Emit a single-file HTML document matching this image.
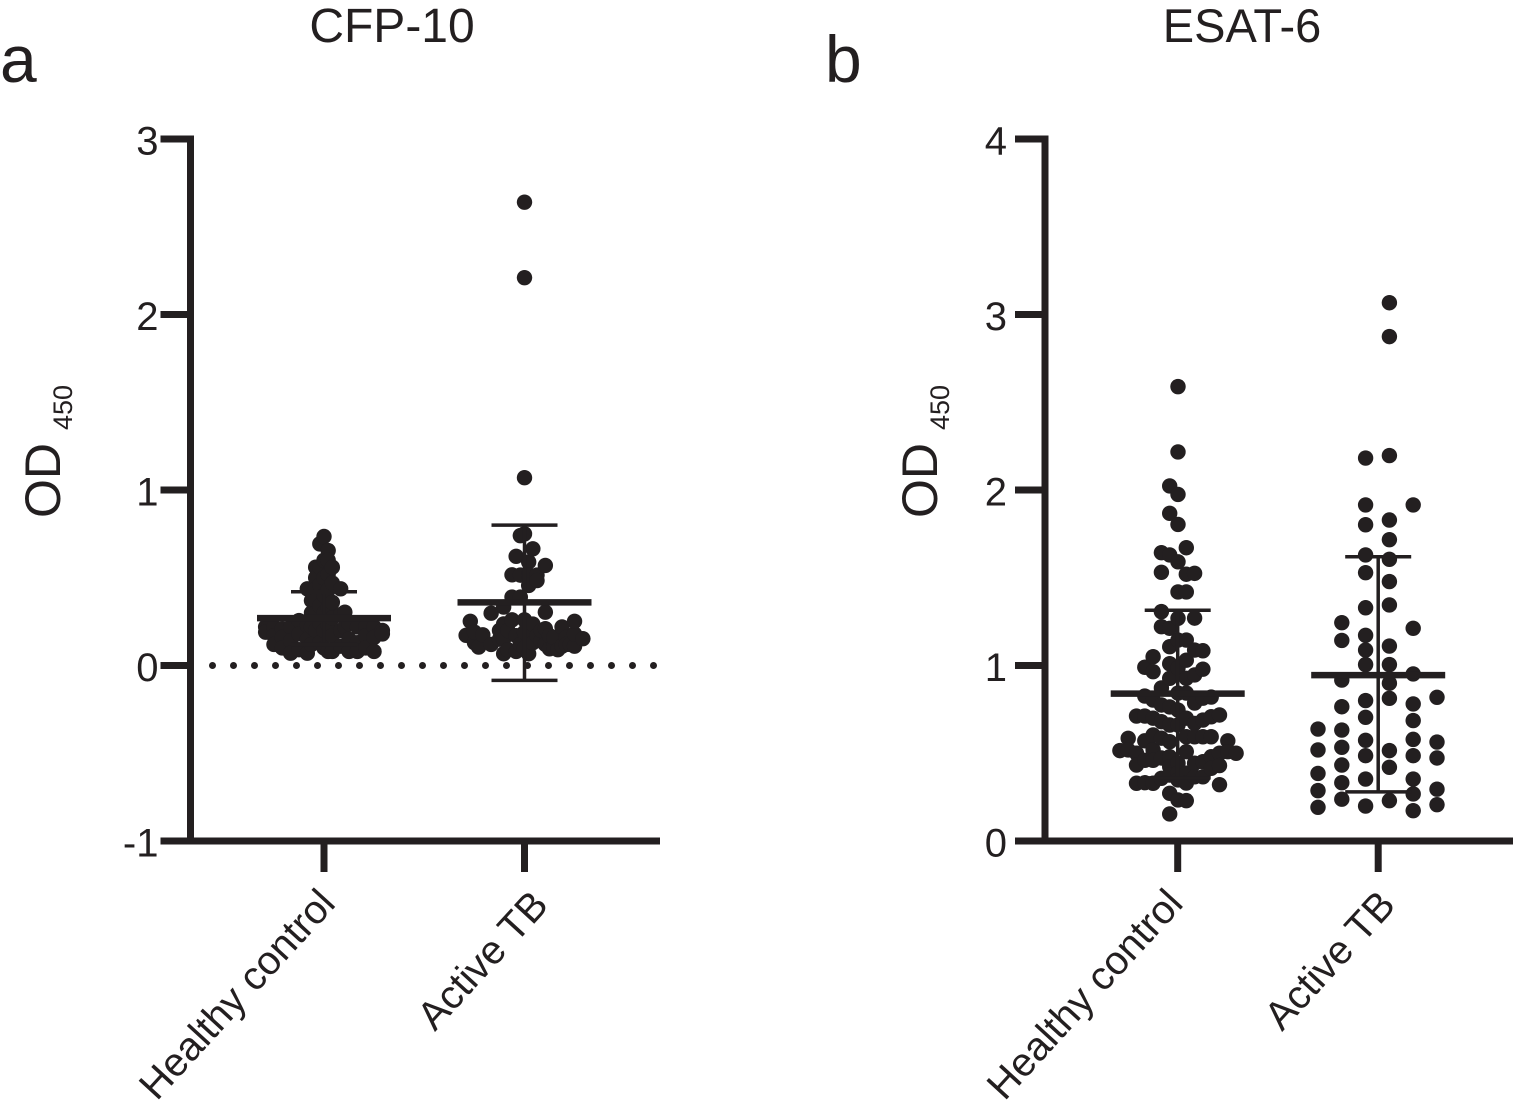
<!DOCTYPE html>
<html lang="en">
<head>
<meta charset="utf-8">
<title>CFP-10 and ESAT-6 OD450</title>
<style>
html,body{margin:0;padding:0;background:#fff;}
svg{display:block;}
text{font-family:"Liberation Sans",sans-serif;fill:#231f20;}
</style>
</head>
<body>
<svg id="chart" width="1515" height="1112" viewBox="0 0 1515 1112" xmlns="http://www.w3.org/2000/svg">
<rect width="1515" height="1112" fill="#fff"/>
<text x="0" y="82" font-size="66">a</text>
<text x="825" y="82" font-size="66">b</text>
<text x="392" y="42" font-size="48" text-anchor="middle">CFP-10</text>
<text x="1242" y="42" font-size="47" text-anchor="middle">ESAT-6</text>
<g transform="translate(60,518) rotate(-90)"><text font-size="50">OD</text><text x="88" y="12" font-size="27">450</text></g>
<g transform="translate(937,518) rotate(-90)"><text font-size="50">OD</text><text x="88" y="12" font-size="27">450</text></g>
<g id="panelA"></g>
<g id="panelB"></g>
</svg>
<script>
const categories = ["Healthy control", "Active TB"];
const cfpTicks = [-1, 0, 1, 2, 3];
const esatTicks = [0, 1, 2, 3, 4];

const cfpMeans = [0.27, 0.36];
const cfpUpper = [0.42, 0.80];
const cfpLower = [0.12, -0.085];
const esatMeans = [0.84, 0.945];
const esatUpper = [1.315, 1.62];
const esatLower = [0.36, 0.28];

/* CFP-10, healthy control: values grouped by swarm lane */
const cfpHealthyM14 = [0.22, 0.19];
const cfpHealthyM12 = [0.22, 0.17, 0.12];
const cfpHealthyM10 = [0.21, 0.16, 0.10];
const cfpHealthyM8 = [0.22, 0.14, 0.07];
const cfpHealthyM6 = [0.256, 0.18, 0.09];
const cfpHealthyM4 = [0.437, 0.23, 0.15, 0.07];
const cfpHealthyM3 = [0.37, 0.30, 0.22, 0.12];
const cfpHealthyM2 = [0.56, 0.50, 0.437, 0.37, 0.30, 0.20];
const cfpHealthyM1 = [0.693, 0.56, 0.46, 0.34, 0.24, 0.13];
const cfpHealthy0 = [0.735, 0.60, 0.50, 0.40, 0.30, 0.20, 0.10];
const cfpHealthyP1 = [0.655, 0.60, 0.52, 0.43, 0.33, 0.23, 0.08];
const cfpHealthyP2 = [0.56, 0.47, 0.36, 0.27, 0.17, 0.08];
const cfpHealthyP4 = [0.437, 0.29, 0.20, 0.11];
const cfpHealthyP5 = [0.304, 0.22];
const cfpHealthyP6 = [0.24, 0.15, 0.08];
const cfpHealthyP8 = [0.22, 0.13, 0.08];
const cfpHealthyP10 = [0.22, 0.17, 0.10];
const cfpHealthyP12 = [0.22, 0.16, 0.08];
const cfpHealthyP14 = [0.20, 0.18];

/* CFP-10, active TB */
const cfpTbM14 = [0.172];
const cfpTbM13 = [0.252];
const cfpTbM12 = [0.13, 0.19];
const cfpTbM11 = [0.105];
const cfpTbM10 = [0.175];
const cfpTbM8 = [0.298, 0.12];
const cfpTbM6 = [0.15, 0.20];
const cfpTbM5 = [0.333, 0.237, 0.067, 0.15];
const cfpTbM4 = [0.09, 0.20];
const cfpTbM3 = [0.517, 0.39, 0.26];
const cfpTbM2 = [0.622, 0.08, 0.17];
const cfpTbM1 = [0.74, 0.515, 0.39, 0.12];
const cfpTb0 = [2.64, 2.21, 1.07, 0.75, 0.26, 0.19, 0.10];
const cfpTbP1 = [0.59, 0.515, 0.456, 0.067];
const cfpTbP2 = [0.665, 0.236, 0.13];
const cfpTbP3 = [0.515, 0.484, 0.17];
const cfpTbP4 = [0.14, 0.20];
const cfpTbP5 = [0.57, 0.304, 0.21, 0.12];
const cfpTbP6 = [0.095, 0.17];
const cfpTbP7 = [0.11, 0.16];
const cfpTbP8 = [0.09];
const cfpTbP9 = [0.11, 0.22];
const cfpTbP10 = [0.16, 0.12];
const cfpTbP11 = [0.12];
const cfpTbP12 = [0.11, 0.18, 0.252];
const cfpTbP14 = [0.153];

/* ESAT-6, healthy control */
const esatHealthyM7 = [0.515];
const esatHealthyM6 = [0.585, 0.519];
const esatHealthyM5 = [0.712, 0.50, 0.433, 0.329];
const esatHealthyM4 = [0.99, 0.826, 0.712, 0.571, 0.46, 0.332];
const esatHealthyM3 = [1.05, 0.965, 0.803, 0.70, 0.604, 0.519, 0.46, 0.329];
const esatHealthyM2 = [1.643, 1.531, 1.307, 1.221, 0.872, 0.775, 0.68, 0.586, 0.473, 0.357];
const esatHealthyM1 = [2.023, 1.867, 1.63, 1.212, 1.107, 1.01, 0.927, 0.764, 0.661, 0.566, 0.48, 0.423, 0.376, 0.272, 0.154];
const esatHealthy0 = [2.589, 2.217, 1.975, 1.804, 1.591, 1.419, 1.269, 1.145, 0.986, 0.843, 0.746, 0.661, 0.443, 0.386, 0.348, 0.234];
const esatHealthyP1 = [1.671, 1.52, 1.419, 1.145, 1.03, 0.927, 0.843, 0.70, 0.594, 0.509, 0.386, 0.33, 0.23];
const esatHealthyP2 = [1.525, 1.27, 1.088, 0.946, 0.786, 0.67, 0.594, 0.443, 0.366];
const esatHealthyP3 = [1.084, 0.979, 0.814, 0.689, 0.594, 0.452, 0.366];
const esatHealthyP4 = [0.82, 0.708, 0.594, 0.48, 0.414];
const esatHealthyP5 = [0.718, 0.50, 0.43, 0.321];
const esatHealthyP6 = [0.571, 0.509];
const esatHealthyP7 = [0.50];

/* ESAT-6, active TB */
const esatTbM5 = [0.638, 0.519, 0.385, 0.287, 0.192];
const esatTbM3 = [1.244, 1.143, 0.917, 0.765, 0.632, 0.534, 0.433, 0.332, 0.238];
const esatTbM1 = [2.182, 1.915, 1.802, 1.63, 1.529, 1.329, 1.172, 1.088, 1.005, 0.80, 0.705, 0.574, 0.486, 0.353, 0.199];
const esatTbP1 = [3.067, 2.874, 2.196, 1.829, 1.717, 1.605, 1.478, 1.345, 1.111, 1.005, 0.899, 0.813, 0.515, 0.42, 0.23];
const esatTbP3 = [1.915, 1.212, 0.952, 0.781, 0.686, 0.579, 0.486, 0.353, 0.268, 0.173];
const esatTbP5 = [0.819, 0.564, 0.473, 0.295, 0.207];

const SVGNS = "http://www.w3.org/2000/svg";
const INK = "#231f20";

function lineEl(parent, x1, y1, x2, y2, w, name) {
  const l = document.createElementNS(SVGNS, "line");
  l.setAttribute("x1", x1);
  l.setAttribute("y1", y1);
  l.setAttribute("x2", x2);
  l.setAttribute("y2", y2);
  l.setAttribute("stroke", INK);
  l.setAttribute("stroke-width", w);
  
  
  parent.appendChild(l);
  return l;
}

function drawPanel(cfg) {
  const g = document.getElementById(cfg.id);
  const lo = cfg.ticks[0];
  const hi = cfg.ticks[cfg.ticks.length - 1];
  const yScale = v => 841 - (v - lo) / (hi - lo) * 702;
  const xScale = i => cfg.firstX + i * 200.5;

  lineEl(g, cfg.axisX, 135.5, cfg.axisX, 844.5, 7, "y-axis-line");
  lineEl(g, cfg.axisX - 3, 841, cfg.axisEnd, 841, 7, "x-axis-line");

  cfg.ticks.forEach(t => {
    const y = yScale(t);
    lineEl(g, cfg.axisX - 30, y, cfg.axisX, y, 7, "y-tick-" + t);
    const lab = document.createElementNS(SVGNS, "text");
    lab.setAttribute("x", cfg.tickLabelX);
    lab.setAttribute("y", y + 15.5);
    lab.setAttribute("font-size", "40");
    lab.setAttribute("text-anchor", "end");
    
    
    lab.textContent = t;
    g.appendChild(lab);
  });

  categories.forEach((c, i) => {
    const x = xScale(i);
    lineEl(g, x, 841, x, 872, 7, "x-tick-" + i);
    const lab = document.createElementNS(SVGNS, "text");
    lab.setAttribute("transform", "translate(" + (x + (i === 0 ? cfg.labelNudgeA : cfg.labelNudgeB)) + "," + (i === 0 ? 905 : 906.5) + ") rotate(-47.5)");
    lab.setAttribute("font-size", "40");
    lab.setAttribute("text-anchor", "end");
    
    
    lab.textContent = c;
    g.appendChild(lab);
  });

  if (lo < 0) {
    const z = lineEl(g, cfg.axisX + 22, yScale(0), cfg.axisEnd, yScale(0), 7, "zero-reference-line");
    z.setAttribute("stroke-dasharray", "0 21");
    z.setAttribute("stroke-linecap", "round");
  }

  cfg.series.forEach((s, i) => {
    const cx = xScale(i) + s.shift;
    s.lanes.forEach(pair => {
      const laneIndex = pair[0];
      pair[1].forEach(v => {
        const d = document.createElementNS(SVGNS, "circle");
        d.setAttribute("cx", cx + laneIndex * s.pitch);
        d.setAttribute("cy", yScale(v));
        d.setAttribute("r", 7.7);
        d.setAttribute("fill", INK);
        
        
        g.appendChild(d);
      });
    });
    const x = xScale(i);
    lineEl(g, x, yScale(cfg.upper[i]), x, yScale(cfg.lower[i]), 3.5, "error-bar-stem");
    lineEl(g, x - 33, yScale(cfg.upper[i]), x + 33, yScale(cfg.upper[i]), 3.5, "error-bar-upper-cap");
    lineEl(g, x - 33, yScale(cfg.lower[i]), x + 33, yScale(cfg.lower[i]), 3.5, "error-bar-lower-cap");
    lineEl(g, x - 67, yScale(cfg.means[i]), x + 67, yScale(cfg.means[i]), 6.5, "mean-line");
  });
}

drawPanel({
  id: "panelA",
  axisX: 190.5,
  axisEnd: 660,
  firstX: 324,
  tickLabelX: 158.5,
  labelNudgeA: 13,
  labelNudgeB: 25.5,
  ticks: cfpTicks,
  means: cfpMeans,
  upper: cfpUpper,
  lower: cfpLower,
  series: [
    { shift: 0, pitch: 4.17, lanes: [
      [-14, cfpHealthyM14], [-12, cfpHealthyM12], [-10, cfpHealthyM10], [-8, cfpHealthyM8],
      [-6, cfpHealthyM6], [-4, cfpHealthyM4], [-3, cfpHealthyM3], [-2, cfpHealthyM2],
      [-1, cfpHealthyM1], [0, cfpHealthy0], [1, cfpHealthyP1], [2, cfpHealthyP2],
      [4, cfpHealthyP4], [5, cfpHealthyP5], [6, cfpHealthyP6], [8, cfpHealthyP8],
      [10, cfpHealthyP10], [12, cfpHealthyP12], [14, cfpHealthyP14]
    ] },
    { shift: 0, pitch: 4.17, lanes: [
      [-14, cfpTbM14], [-13, cfpTbM13], [-12, cfpTbM12], [-11, cfpTbM11], [-10, cfpTbM10], [-8, cfpTbM8],
      [-6, cfpTbM6], [-5, cfpTbM5], [-4, cfpTbM4], [-3, cfpTbM3], [-2, cfpTbM2], [-1, cfpTbM1], [0, cfpTb0],
      [1, cfpTbP1], [2, cfpTbP2], [3, cfpTbP3], [4, cfpTbP4], [5, cfpTbP5], [6, cfpTbP6],
      [7, cfpTbP7], [8, cfpTbP8], [9, cfpTbP9], [10, cfpTbP10], [11, cfpTbP11], [12, cfpTbP12], [14, cfpTbP14]
    ] }
  ]
});

drawPanel({
  id: "panelB",
  axisX: 1045,
  axisEnd: 1513,
  firstX: 1177.7,
  tickLabelX: 1007,
  labelNudgeA: 7,
  labelNudgeB: 19,
  ticks: esatTicks,
  means: esatMeans,
  upper: esatUpper,
  lower: esatLower,
  series: [
    { shift: 0.3, pitch: 8.3, lanes: [
      [-7, esatHealthyM7], [-6, esatHealthyM6], [-5, esatHealthyM5], [-4, esatHealthyM4],
      [-3, esatHealthyM3], [-2, esatHealthyM2], [-1, esatHealthyM1], [0, esatHealthy0],
      [1, esatHealthyP1], [2, esatHealthyP2], [3, esatHealthyP3], [4, esatHealthyP4],
      [5, esatHealthyP5], [6, esatHealthyP6], [7, esatHealthyP7]
    ] },
    { shift: -0.7, pitch: 11.9, lanes: [
      [-5, esatTbM5], [-3, esatTbM3], [-1, esatTbM1], [1, esatTbP1], [3, esatTbP3], [5, esatTbP5]
    ] }
  ]
});
</script>
</body>
</html>
